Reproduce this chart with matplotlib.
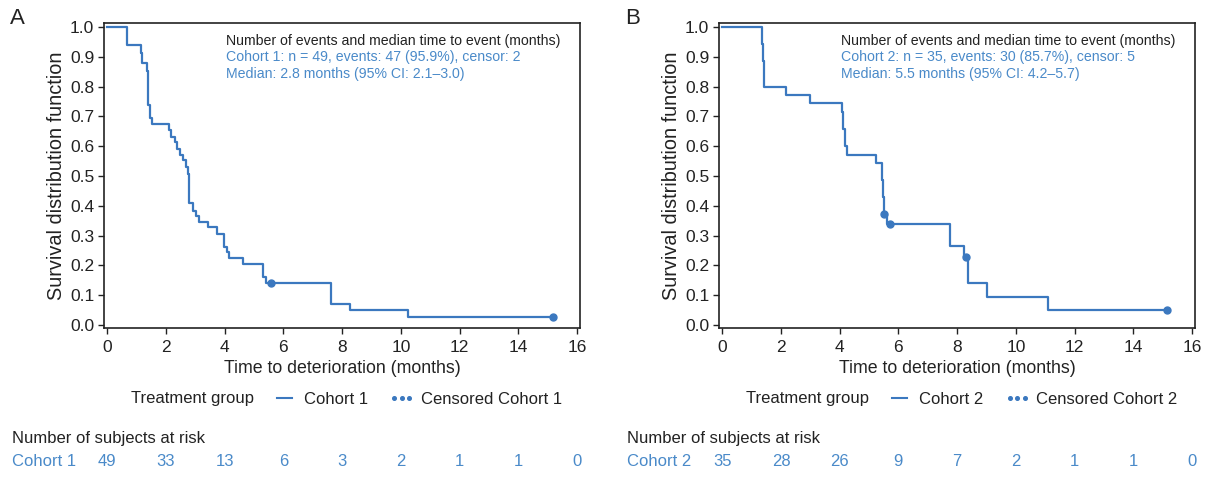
import matplotlib
matplotlib.use("Agg")
import matplotlib.pyplot as plt
import matplotlib.transforms as mtransforms
from matplotlib.lines import Line2D

plt.rcParams['font.family'] = ['Liberation Sans', 'DejaVu Sans']

# panel A: cohort 1 (step times / survival)
tA = [0, 0.69, 1.14, 1.20, 1.34, 1.40, 1.45, 1.51, 2.10, 2.17, 2.31, 2.39, 2.48, 2.59,
      2.68, 2.76, 2.80, 2.91, 3.02, 3.13, 3.44, 3.73, 3.98, 4.07, 4.15, 4.64, 5.32,
      5.40, 7.61, 8.28, 10.23, 15.17]
sA = [1.0, 0.940, 0.912, 0.879, 0.851, 0.738, 0.693, 0.674, 0.654, 0.631, 0.615, 0.592,
      0.570, 0.553, 0.530, 0.508, 0.409, 0.384, 0.367, 0.347, 0.328, 0.306, 0.261, 0.244,
      0.225, 0.204, 0.160, 0.140, 0.070, 0.050, 0.028, 0.028]
censA_t = [5.57, 15.17]
censA_s = [0.140, 0.028]

# panel B: cohort 2
tB = [0, 1.34, 1.38, 1.42, 2.17, 2.99, 4.07, 4.12, 4.18, 4.24, 5.23, 5.43, 5.45, 5.47,
      5.49, 5.50, 5.60, 7.74, 8.25, 8.36, 9.02, 11.10, 15.16]
sB = [1.0, 0.943, 0.886, 0.800, 0.771, 0.743, 0.714, 0.657, 0.600, 0.571, 0.543, 0.514,
      0.486, 0.457, 0.428, 0.371, 0.339, 0.264, 0.227, 0.140, 0.095, 0.050, 0.050]
censB_t = [5.51, 5.72, 8.31, 15.16]
censB_s = [0.371, 0.339, 0.227, 0.050]

risk_times = [0, 2, 4, 6, 8, 10, 12, 14, 16]
riskA = [49, 33, 13, 6, 3, 2, 1, 1, 0]
riskB = [35, 28, 26, 9, 7, 2, 1, 1, 0]

line_col = '#3b78bf'
text_col = '#4a8ac9'
dark = '#222222'

W, H = 1211, 479
fig = plt.figure(figsize=(W / 100, H / 100), dpi=100)


def px(x, y):
    return x / W, 1 - y / H


panels = [
    dict(letter='A', left=104, t=tA, s=sA, ct=censA_t, cs=censA_s, risk=riskA, name='Cohort 1',
         info=['Cohort 1: n = 49, events: 47 (95.9%), censor: 2',
               'Median: 2.8 months (95% CI: 2.1\u20133.0)']),
    dict(letter='B', left=719, t=tB, s=sB, ct=censB_t, cs=censB_s, risk=riskB, name='Cohort 2',
         info=['Cohort 2: n = 35, events: 30 (85.7%), censor: 5',
               'Median: 5.5 months (95% CI: 4.2\u20135.7)']),
]

for p in panels:
    L = p['left']
    ax = fig.add_axes([L / W, (H - 328) / H, 476 / W, 305 / H])
    ax.step(p['t'], p['s'], where='post', color=line_col, lw=1.6)
    ax.plot(p['ct'], p['cs'], 'o', color=line_col, ms=5, ls='none')
    ax.set_xlim(-0.11, 16.1)
    ax.set_ylim(-0.010, 1.013)
    ax.set_xticks(risk_times)
    ax.set_yticks([i / 10 for i in range(11)])
    ax.set_yticklabels(['%.1f' % (i / 10) for i in range(11)])
    ax.tick_params(direction='out', length=4, width=1, labelsize=12.5, colors=dark, pad=3)
    ax.tick_params(axis='x', pad=5)
    for sp in ax.spines.values():
        sp.set_linewidth(1.2)
        sp.set_color(dark)
    ax.set_xlabel('Time to deterioration (months)', fontsize=12.8, color=dark, labelpad=3)
    ax.set_ylabel('Survival distribution function', fontsize=14.3, color=dark, labelpad=3)

    # info box inside plot
    ax.text(0.256, 0.965, 'Number of events and median time to event (months)',
            transform=ax.transAxes, fontsize=10.2, color=dark, va='top', ha='left')
    for i, ln in enumerate(p['info']):
        ax.text(0.256, 0.965 - 0.054 * (i + 1), ln, transform=ax.transAxes,
                fontsize=10.2, color=text_col, va='top', ha='left')

    fig.text(*px(L - 94, 18), p['letter'], fontsize=16, color=dark, ha='left', va='center')

    # legend row
    fig.text(*px(L + 27, 399), 'Treatment group', fontsize=12, color=dark, ha='left', va='center')
    h1 = Line2D([], [], color=line_col, lw=1.5)
    h2 = Line2D([], [], color=line_col, marker='o', ms=2.6, ls='none')
    ax.legend([h1, h2], [p['name'], 'Censored ' + p['name']], loc='center left',
              bbox_to_anchor=px(L + 168, 399), bbox_transform=fig.transFigure,
              ncol=2, frameon=False, fontsize=12, handlelength=1.5, handletextpad=0.4,
              columnspacing=1.3, numpoints=3, borderpad=0, borderaxespad=0,
              labelcolor=dark)

    # number at risk table
    fig.text(*px(L - 92, 438), 'Number of subjects at risk', fontsize=12, color=dark,
             ha='left', va='center')
    fig.text(*px(L - 92, 461), p['name'], fontsize=12, color=text_col, ha='left', va='center')
    trans = mtransforms.blended_transform_factory(ax.transData, fig.transFigure)
    for x, n in zip(risk_times, p['risk']):
        ax.text(x, 1 - 461 / H, str(n), transform=trans, fontsize=12, color=text_col,
                ha='center', va='center', clip_on=False)

fig.savefig('out.png', dpi=100)
